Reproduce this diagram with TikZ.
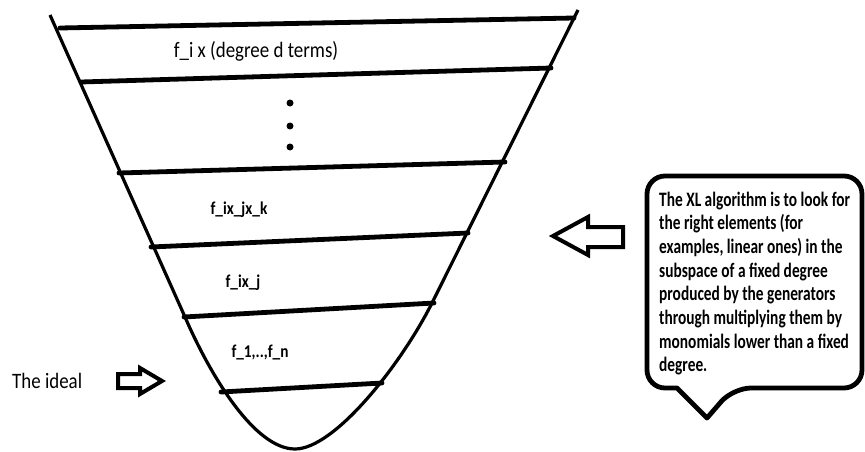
\documentclass[tikz,border=0pt]{standalone}
\usepackage{fontspec}
\setmainfont{Carlito}
\newfontfamily\narrowA{Carlito}[FakeStretch=0.86]
\newfontfamily\narrowB{Carlito}[FakeStretch=0.75]
\newfontfamily\narrowC{Carlito}[FakeStretch=0.85]
\begin{document}
\begin{tikzpicture}[x=1pt,y=-1pt,
  outline/.style={line width=3.2pt, line join=round},
  band/.style={line width=4.8pt, line cap=round},
  hollow/.style={line width=4pt, line join=miter},
  bubble/.style={line width=4.8pt, line join=round},
  biglab/.style={anchor=base, inner sep=0pt, font=\narrowA\fontsize{22}{26}\selectfont},
  smalllab/.style={anchor=base, inner sep=0pt, font=\narrowC\bfseries\fontsize{18}{21}\selectfont},
  dotmark/.style={fill=black, draw=none, circle, minimum size=7pt, inner sep=0pt}]
\useasboundingbox (0,0) rectangle (865,452);
% funnel outline
\coordinate (ltop) at (50,15);
\coordinate (lbend) at (185,317);
\coordinate (bottom) at (295,449);
\coordinate (rbend) at (432,303);
\coordinate (rtop) at (578,10);
\draw[outline] (ltop) -- (lbend) .. controls (211,377) and (255,449) .. (bottom)
  .. controls (335,449) and (402,363) .. (rbend) -- (rtop);
% bands
\coordinate (a1) at (60,28);   \coordinate (b1) at (574,18);
\coordinate (a2) at (81,82);   \coordinate (b2) at (551,68);
\coordinate (a3) at (119,173); \coordinate (b3) at (505,162);
\coordinate (a4) at (151,247); \coordinate (b4) at (468,233);
\coordinate (a5) at (184,317); \coordinate (b5) at (434,303);
\coordinate (a6) at (221,392); \coordinate (b6) at (382,383);
\draw[band] (a1) -- (b1);
\draw[band] (a2) -- (b2);
\draw[band] (a3) -- (b3);
\draw[band] (a4) -- (b4);
\draw[band] (a5) -- (b5);
\draw[band] (a6) -- (b6);
% labels in funnel
\node[biglab] (deg) at (256,58) {f\_i x (degree d terms)};
\node[dotmark] (d1) at (290,103) {};
\node[dotmark] (d2) at (290,126) {};
\node[dotmark] (d3) at (290,147) {};
\node[smalllab] (ijk) at (239,214) {f\_ix\_jx\_k};
\node[smalllab] (ij) at (243,287) {f\_ix\_j};
\node[smalllab] (fn) at (260,357) {f\_1,..,f\_n};
% the ideal
\node[biglab, anchor=base west] (ideal) at (12,388) {The ideal};
\draw[hollow] (162,381) -- (140,368) -- (140,374) -- (118,374) -- (118,388) -- (140,388) -- (140,394) -- cycle;
% left arrow
\draw[hollow] (553,236) -- (588,217) -- (588,227) -- (623,227) -- (623,247) -- (588,247) -- (588,255) -- cycle;
% bubble
\draw[bubble] (750,176) [rounded corners=18pt] -- (862,176) -- (862,388) -- (733,388)
  [sharp corners] -- (707,418) -- (677,388) [rounded corners=18pt] -- (647,388) -- (647,176) -- cycle;
\node[anchor=base west, inner sep=0pt] (xl) at (659,206) {\parbox[t]{205pt}{\narrowB\bfseries\fontsize{20.5}{23.7}\selectfont\raggedright
The XL algorithm is to look for\\
the right elements (for\\
examples, linear ones) in the\\
subspace of a fixed degree\\
produced by the generators\\
through multiplying them by\\
monomials lower than a fixed\\
degree.}};
\end{tikzpicture}
\end{document}
